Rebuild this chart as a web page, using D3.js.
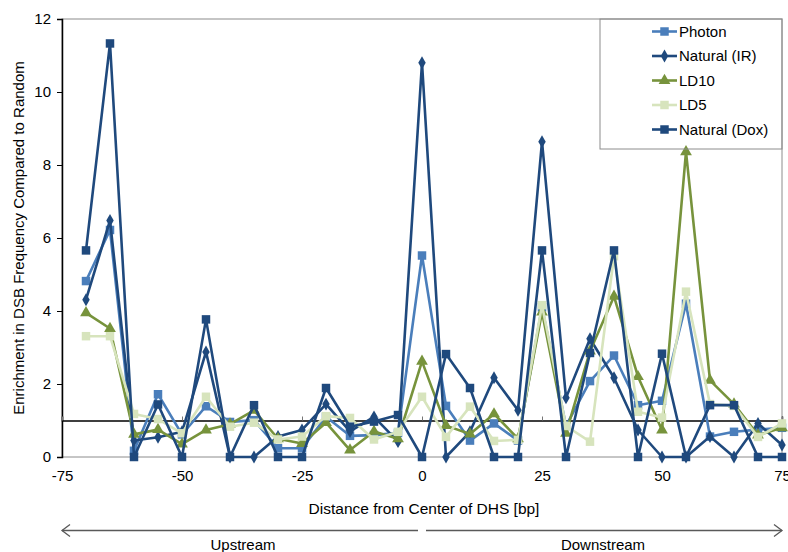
<!DOCTYPE html>
<html>
<head>
<meta charset="utf-8">
<script src="https://cdn.jsdelivr.net/npm/d3@7"></script>
<style>
  html, body { margin: 0; padding: 0; background: #fff; }
  svg { display: block; }
  text { font-family: "Liberation Sans", Arial, sans-serif; fill: #000; }
</style>
</head>
<body>
<svg id="chart" width="788" height="552"></svg>
<script>
// Distance from DHS centre (bp)
const positions = [-70, -65, -60, -55, -50, -45, -40, -35, -30, -25, -20, -15, -10, -5, 0,
                   5, 10, 15, 20, 25, 30, 35, 40, 45, 50, 55, 60, 65, 70, 75];

const photon     = [4.82, 6.22, 0.17, 1.72, 0.62, 1.39, 0.96, 1.01, 0.24, 0.24, 1.10, 0.58, 0.60, 0.66, 5.52,
                    1.40, 0.45, 0.92, 0.45, 4.10, 0.85, 2.08, 2.78, 1.42, 1.54, 4.20, 0.56, 0.69, 0.75, 0.80];
const naturalIR  = [4.31, 6.48, 0.45, 0.54, 0.69, 2.88, 0.00, 0.00, 0.56, 0.74, 1.45, 0.70, 1.10, 0.42, 10.80,
                    0.00, 0.69, 2.17, 1.28, 8.64, 1.62, 3.24, 2.17, 0.74, 0.00, 0.00, 0.56, 0.00, 0.92, 0.33];
const ld10       = [3.95, 3.52, 0.62, 0.75, 0.35, 0.74, 0.90, 1.28, 0.50, 0.37, 0.94, 0.19, 0.70, 0.50, 2.62,
                    0.86, 0.63, 1.18, 0.50, 3.97, 0.65, 2.90, 4.40, 2.20, 0.74, 8.36, 2.10, 1.45, 0.60, 0.80];
const ld5        = [3.31, 3.31, 1.18, 1.04, 0.65, 1.65, 0.83, 0.94, 0.48, 0.56, 1.12, 1.07, 0.48, 0.69, 1.65,
                    0.55, 1.38, 0.44, 0.47, 4.16, 0.85, 0.42, 5.50, 1.24, 1.08, 4.53, 1.45, 1.40, 0.55, 0.92];
const naturalDox = [5.66, 11.33, 0.00, 1.44, 0.00, 3.77, 0.00, 1.42, 0.00, 0.00, 1.89, 0.83, 0.97, 1.15, 0.00,
                    2.82, 1.89, 0.00, 0.00, 5.66, 0.00, 2.85, 5.66, 0.00, 2.83, 0.00, 1.42, 1.42, 0.00, 0.00];

const seriesNames = ["Photon", "Natural (IR)", "LD10", "LD5", "Natural (Dox)"];
const xTicks = [-75, -50, -25, 0, 25, 50, 75];
const yTicks = [0, 2, 4, 6, 8, 10, 12];
const baselineValue = 1;

const series = [
  { name: seriesNames[0], values: photon,     color: "#4a7ebb", marker: "square" },
  { name: seriesNames[1], values: naturalIR,  color: "#1f497d", marker: "diamond" },
  { name: seriesNames[2], values: ld10,       color: "#77933c", marker: "triangle" },
  { name: seriesNames[3], values: ld5,        color: "#d7e4bd", marker: "square" },
  { name: seriesNames[4], values: naturalDox, color: "#1f497d", marker: "square" }
];

const svg = d3.select("#chart");
const plot = { left: 62, right: 782, top: 19, bottom: 457 };

const x = d3.scaleLinear().domain([-75, 75]).range([plot.left, plot.right]);
const y = d3.scaleLinear().domain([0, 12]).range([plot.bottom, plot.top]);

// plain hyphen-minus for negative tick labels
const fmt = d => String(d);

// plot area frame
svg.append("rect")
  .attr("x", plot.left).attr("y", plot.top)
  .attr("width", plot.right - plot.left).attr("height", plot.bottom - plot.top)
  .attr("fill", "none").attr("stroke", "#8c8c8c").attr("stroke-width", 1);

// y axis
const yAxis = svg.append("g")
  .attr("transform", `translate(${plot.left},0)`)
  .call(d3.axisLeft(y).tickValues(yTicks).tickSize(5).tickPadding(6).tickFormat(fmt));
yAxis.select(".domain").attr("stroke", "#000").attr("stroke-width", 1.5);
yAxis.selectAll(".tick line").attr("stroke", "#000");
yAxis.selectAll("text").style("font-size", "15px").style("font-family", "'Liberation Sans', Arial, sans-serif");

// horizontal axis drawn across y = 1, with short ticks pointing up
const xAxisLine = svg.append("g")
  .attr("transform", `translate(0,${y(baselineValue)})`)
  .call(d3.axisTop(x).tickValues(xTicks).tickSize(4).tickFormat(""));
xAxisLine.select(".domain").attr("stroke", "#000").attr("stroke-width", 1.5);
xAxisLine.selectAll(".tick line").attr("stroke", "#777");

// x tick labels along the bottom of the plot
const xLabels = svg.append("g")
  .attr("transform", `translate(0,${plot.bottom})`)
  .call(d3.axisBottom(x).tickValues(xTicks).tickSize(0).tickPadding(13).tickFormat(fmt));
xLabels.select(".domain").remove();
xLabels.selectAll("text").style("font-size", "15px").style("font-family", "'Liberation Sans', Arial, sans-serif");

// series lines and markers
const line = d3.line().x((d, i) => x(positions[i])).y(d => y(d));

const symbolFor = {
  square: d3.symbol().type(d3.symbolSquare).size(72),
  diamond: d3.symbol().type(d3.symbolDiamond).size(48),
  triangle: d3.symbol().type(d3.symbolTriangle).size(60)
};

series.forEach(s => {
  const g = svg.append("g");
  g.append("path")
    .datum(s.values)
    .attr("d", line)
    .attr("fill", "none")
    .attr("stroke", s.color)
    .attr("stroke-width", 2.6)
    .attr("stroke-linejoin", "round");
  g.selectAll("path.pt")
    .data(s.values)
    .join("path")
    .attr("class", "pt")
    .attr("transform", (d, i) => `translate(${x(positions[i])},${y(d)})`)
    .attr("d", symbolFor[s.marker]())
    .attr("fill", s.color);
});

// legend
const legend = svg.append("g");
legend.append("rect")
  .attr("x", 600).attr("y", plot.top)
  .attr("width", plot.right - 600).attr("height", 130)
  .attr("fill", "none").attr("stroke", "#8c8c8c").attr("stroke-width", 1);
series.forEach((s, i) => {
  const ly = 31.5 + i * 24.5;
  const row = legend.append("g");
  row.append("line")
    .attr("x1", 652).attr("x2", 677).attr("y1", ly).attr("y2", ly)
    .attr("stroke", s.color).attr("stroke-width", 2.6);
  row.append("path")
    .attr("transform", `translate(664.5,${ly})`)
    .attr("d", symbolFor[s.marker]())
    .attr("fill", s.color);
  row.append("text")
    .attr("x", 679).attr("y", ly).attr("dy", "0.36em")
    .style("font-size", "15px")
    .text(s.name);
});

// axis titles
svg.append("text")
  .attr("x", 424).attr("y", 514)
  .attr("text-anchor", "middle")
  .style("font-size", "15.5px")
  .text("Distance from Center of DHS [bp]");

svg.append("text")
  .attr("transform", "translate(24,238) rotate(-90)")
  .attr("text-anchor", "middle")
  .style("font-size", "15px")
  .text("Enrichment in DSB Frequency Compared to Random");

// upstream / downstream arrows
const arrowY = 530.5;
const arrowColor = "#595959";
const arrows = svg.append("g").attr("stroke", arrowColor).attr("stroke-width", 1.3).attr("fill", "none");
arrows.append("line").attr("x1", x(-75)).attr("x2", x(0) - 4).attr("y1", arrowY).attr("y2", arrowY);
arrows.append("polyline")
  .attr("points", `${x(-75) + 8},${arrowY - 6} ${x(-75)},${arrowY} ${x(-75) + 8},${arrowY + 6}`);
arrows.append("line").attr("x1", x(0) + 4).attr("x2", x(75)).attr("y1", arrowY).attr("y2", arrowY);
arrows.append("polyline")
  .attr("points", `${x(75) - 8},${arrowY - 6} ${x(75)},${arrowY} ${x(75) - 8},${arrowY + 6}`);

svg.append("text")
  .attr("x", 243).attr("y", 550)
  .attr("text-anchor", "middle")
  .style("font-size", "15px")
  .text("Upstream");
svg.append("text")
  .attr("x", 603).attr("y", 550)
  .attr("text-anchor", "middle")
  .style("font-size", "15px")
  .text("Downstream");
</script>
</body>
</html>
